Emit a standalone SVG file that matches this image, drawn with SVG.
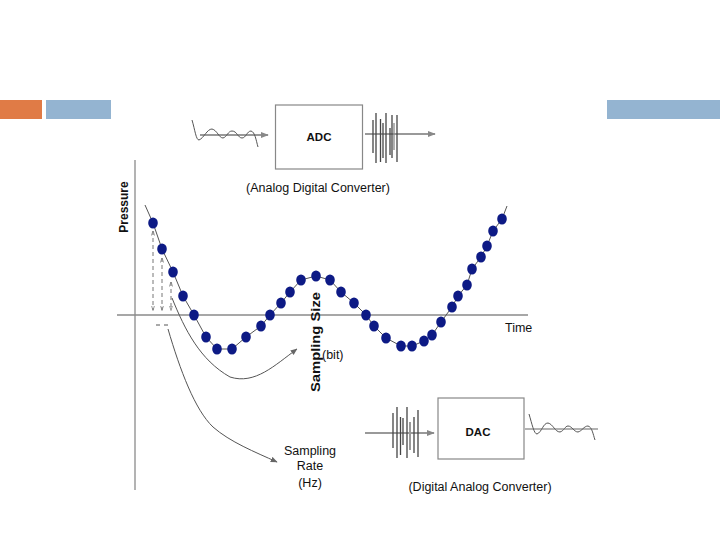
<svg xmlns="http://www.w3.org/2000/svg" width="720" height="540" viewBox="0 0 720 540">
<style>
text{font-family:"Liberation Sans",Arial,sans-serif;fill:#111}
.b{font-weight:bold}
.ax{stroke:#8a8a8a;stroke-width:1.3;fill:none}
.ln{stroke:#555;stroke-width:1;fill:none}
.box{fill:#fff;stroke:#888;stroke-width:1.2}
.dot{fill:#0d1a85}
.burst{stroke:#444;stroke-width:1.3}
.gar{stroke:#999;stroke-width:2;fill:none}
.dash{stroke:#777;stroke-width:1;stroke-dasharray:4 3;fill:none}
</style>
<defs>
<marker id="ah" viewBox="0 0 10 10" refX="9" refY="5" markerWidth="7" markerHeight="7" orient="auto"><path d="M0,1 L10,5 L0,9 z" fill="#666"/></marker>
<marker id="ga" viewBox="0 0 10 10" refX="9" refY="5" markerWidth="4" markerHeight="4" orient="auto"><path d="M0,1 L10,5 L0,9 z" fill="#888"/></marker>
<marker id="sa" viewBox="0 0 10 10" refX="9" refY="5" markerWidth="5" markerHeight="5" orient="auto-start-reverse"><path d="M0,2 L10,5 L0,8" fill="none" stroke="#777" stroke-width="1.5"/></marker>
</defs>
<rect width="720" height="540" fill="#fff"/>
<g id="header">
<rect x="0" y="100" width="42" height="19" fill="#e07b46"/>
<rect x="46" y="100" width="65" height="19" fill="#94b4d1"/>
<rect x="607" y="100" width="113" height="19" fill="#94b4d1"/>
</g>
<g id="axes">
<line class="ax" x1="135" y1="160" x2="135" y2="490"/>
<line class="ax" x1="117" y1="315" x2="528" y2="315"/>
<text class="b" font-size="12" transform="translate(128,207) rotate(-90)" text-anchor="middle">Pressure</text>
<text font-size="12.5" x="505" y="332">Time</text>
</g>
<g id="signal">
<polyline class="ln" points="145,205 153,223 162,249 173,272 183,296 194,315 206,337 217,349 232,349 246,337 261,326 270,315 281,303 290,292 301,280 316,276 330,280 341,292 354,303 366,315 374,326 386,338 401,346 412,346 424,341 432,335 441,322 452,307 458,296 467,285 472,269 481,257 487,246 493,231 502,219 507,206"/>
<g class="dot">
<ellipse cx="153" cy="223" rx="4.8" ry="5.5"/><ellipse cx="162" cy="249" rx="4.8" ry="5.5"/><ellipse cx="173" cy="272" rx="4.8" ry="5.5"/><ellipse cx="183" cy="296" rx="4.8" ry="5.5"/><ellipse cx="194" cy="315" rx="4.8" ry="5.5"/><ellipse cx="206" cy="337" rx="4.8" ry="5.5"/><ellipse cx="217" cy="349" rx="4.8" ry="5.5"/><ellipse cx="232" cy="349" rx="4.8" ry="5.5"/><ellipse cx="246" cy="337" rx="4.8" ry="5.5"/><ellipse cx="261" cy="326" rx="4.8" ry="5.5"/><ellipse cx="270" cy="315" rx="4.8" ry="5.5"/><ellipse cx="281" cy="303" rx="4.8" ry="5.5"/><ellipse cx="290" cy="292" rx="4.8" ry="5.5"/><ellipse cx="301" cy="280" rx="4.8" ry="5.5"/><ellipse cx="316" cy="276" rx="4.8" ry="5.5"/><ellipse cx="330" cy="280" rx="4.8" ry="5.5"/><ellipse cx="341" cy="292" rx="4.8" ry="5.5"/><ellipse cx="354" cy="303" rx="4.8" ry="5.5"/><ellipse cx="366" cy="315" rx="4.8" ry="5.5"/><ellipse cx="374" cy="326" rx="4.8" ry="5.5"/><ellipse cx="386" cy="338" rx="4.8" ry="5.5"/><ellipse cx="401" cy="346" rx="4.8" ry="5.5"/><ellipse cx="412" cy="346" rx="4.8" ry="5.5"/><ellipse cx="424" cy="341" rx="4.8" ry="5.5"/><ellipse cx="432" cy="335" rx="4.8" ry="5.5"/><ellipse cx="441" cy="322" rx="4.8" ry="5.5"/><ellipse cx="452" cy="307" rx="4.8" ry="5.5"/><ellipse cx="458" cy="296" rx="4.8" ry="5.5"/><ellipse cx="467" cy="285" rx="4.8" ry="5.5"/><ellipse cx="472" cy="269" rx="4.8" ry="5.5"/><ellipse cx="481" cy="257" rx="4.8" ry="5.5"/><ellipse cx="487" cy="246" rx="4.8" ry="5.5"/><ellipse cx="493" cy="231" rx="4.8" ry="5.5"/><ellipse cx="502" cy="219" rx="4.8" ry="5.5"/>
</g>
</g>
<g id="connectors">
<line class="dash" x1="153" y1="231" x2="153" y2="310" marker-start="url(#sa)" marker-end="url(#sa)"/>
<line class="dash" x1="162" y1="258" x2="162" y2="310" marker-start="url(#sa)" marker-end="url(#sa)"/>
<line class="dash" x1="171" y1="282" x2="171" y2="310" marker-start="url(#sa)" marker-end="url(#sa)"/>
<line x1="156" y1="325" x2="160" y2="325" stroke="#555"/>
<line x1="164" y1="325" x2="168" y2="325" stroke="#555"/>
<path class="ln" d="M172,298 C185,330 200,360 230,377 C255,385 275,365 297,349" marker-end="url(#ah)"/>
<path class="ln" d="M168,329 C180,370 195,410 213,427 C230,442 255,452 277,462" marker-end="url(#ah)"/>
<line class="gar" x1="200" y1="135" x2="268" y2="135" marker-end="url(#ga)"/>
<line class="gar" x1="365" y1="134" x2="435" y2="134" marker-end="url(#ga)"/>
<line class="gar" x1="365" y1="433" x2="434" y2="433" marker-end="url(#ga)"/>
</g>
<g id="adc">
<rect class="box" x="275.5" y="105" width="87" height="64"/>
<text class="b" font-size="11.5" x="319" y="141" text-anchor="middle">ADC</text>
<text font-size="12.5" x="318" y="192" text-anchor="middle">(Analog Digital Converter)</text>
<path class="ln" stroke-width="1.3" d="M192,120 C195,130 196,140 199,140 C204,138 207,129 212,129 C217,130 219,138 223,138 C227,137 228,131 232,131 C237,131 238,138 242,138 C246,138 247,131 251,131 C255,132 256,140 258,147"/>
<g class="burst">
<line x1="373" y1="120" x2="373" y2="153"/><line x1="376" y1="113" x2="376" y2="163"/><line x1="380.5" y1="119" x2="380.5" y2="162"/><line x1="383" y1="123" x2="383" y2="158"/><line x1="386" y1="113" x2="386" y2="163"/><line x1="390" y1="128" x2="390" y2="155"/><line x1="392" y1="115" x2="392" y2="158"/><line x1="394" y1="123" x2="394" y2="150" stroke="#888"/><line x1="397" y1="115" x2="397" y2="162"/>
</g>
</g>
<g id="dac">
<rect class="box" x="438" y="398" width="86" height="61"/>
<text class="b" font-size="11.5" x="478" y="436" text-anchor="middle">DAC</text>
<text font-size="12.5" x="480" y="491" text-anchor="middle">(Digital Analog Converter)</text>
<path class="ln" stroke-width="1.3" d="M529,414 C532,424 534,434 537,434 C542,432 543,423 548,423 C553,424 555,432 560,432 C564,431 565,426 568,426 C572,426 574,432 578,432 C582,431 584,426 588,426 C592,427 593,434 595,440"/>
<line x1="525" y1="429" x2="598" y2="429" stroke="#666" stroke-width="1.1"/>
<g class="burst">
<line x1="393" y1="413" x2="393" y2="448"/><line x1="397" y1="407" x2="397" y2="458"/><line x1="400.5" y1="417" x2="400.5" y2="455"/><line x1="403" y1="418" x2="403" y2="445"/><line x1="407" y1="407" x2="407" y2="458"/><line x1="410" y1="422" x2="410" y2="450" stroke="#999" stroke-width="2"/><line x1="414" y1="417" x2="414" y2="453"/><line x1="418" y1="410" x2="418" y2="457"/>
</g>
</g>
<g id="labels">
<text class="b" font-size="12" transform="translate(320,342) rotate(-90)" text-anchor="middle" textLength="100" lengthAdjust="spacingAndGlyphs">Sampling Size</text>
<text font-size="12.5" x="322" y="359">(bit)</text>
<text font-size="12.5" x="310" y="455" text-anchor="middle">Sampling</text>
<text font-size="12.5" x="310" y="470" text-anchor="middle">Rate</text>
<text font-size="12.5" x="310" y="487" text-anchor="middle">(Hz)</text>
</g>
</svg>
